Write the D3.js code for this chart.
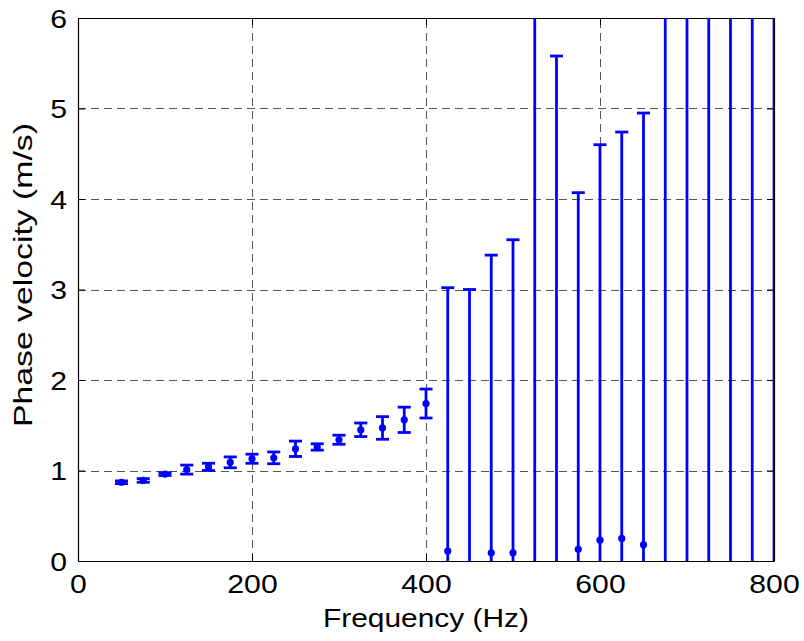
<!DOCTYPE html>
<html>
<head>
<meta charset="utf-8">
<script src="https://cdn.jsdelivr.net/npm/d3@7"></script>
<style>
  html, body { margin: 0; padding: 0; background: #fff; }
  svg { display: block; }
  text { font-family: "Liberation Sans", Arial, Helvetica, sans-serif; fill: #000; }
</style>
</head>
<body>
<svg id="chart" width="804" height="641"></svg>
<script>
// Data
const frequencies = [50, 75, 100, 125, 150, 175, 200, 225, 250, 275, 300, 325, 350, 375, 400,
                     425, 450, 475, 500, 525, 550, 575, 600, 625, 650, 675, 700, 725, 750, 775, 800];
const velocities  = [0.87, 0.89, 0.96, 1.01, 1.04, 1.09, 1.13, 1.14, 1.24, 1.26, 1.34, 1.45, 1.47, 1.56, 1.74,
                     0.11, -0.15, 0.09, 0.09, -0.4, -0.3, 0.13, 0.23, 0.25, 0.18, -0.5, -0.5, -0.5, -0.5, -0.5, -0.5];
const errors      = [0.015, 0.02, 0.015, 0.05, 0.04, 0.06, 0.05, 0.065, 0.085, 0.035, 0.05, 0.075, 0.125, 0.14, 0.16,
                     2.91, 3.15, 3.29, 3.46, 7.0, 5.88, 3.94, 4.37, 4.49, 4.77, 7.0, 7.0, 7.0, 7.0, 7.0, 7.0];
const xTicks = [0, 200, 400, 600, 800];
const yTicks = [0, 1, 2, 3, 4, 5, 6];
const xLabel = "Frequency (Hz)";
const yLabel = "Phase velocity (m/s)";

const data = frequencies.map((f, i) => ({ f, v: velocities[i], e: errors[i] }));

const svg = d3.select("#chart");
const L = 78, R = 774, T = 18, B = 561;
const x = d3.scaleLinear().domain([0, 800]).range([L, R]);
const y = d3.scaleLinear().domain([0, 6]).range([B, T]);
const tee = (d3.max(frequencies) - d3.min(frequencies)) / 100;
const FS = 26, digitW = 16.8;

svg.append("defs").append("clipPath").attr("id", "clip")
  .append("rect").attr("x", L).attr("y", T).attr("width", R - L).attr("height", B - T);

// Grid
const grid = svg.append("g").attr("stroke", "#555").attr("stroke-width", 1)
  .attr("stroke-dasharray", "8,5").attr("shape-rendering", "crispEdges");
grid.selectAll("line.gx").data(xTicks.filter(t => t > 0 && t < 800)).join("line")
  .attr("x1", d => Math.round(x(d)) + 0.5).attr("x2", d => Math.round(x(d)) + 0.5)
  .attr("y1", B).attr("y2", T);
grid.selectAll("line.gy").data(yTicks.filter(t => t > 0 && t < 6)).join("line")
  .attr("y1", d => Math.round(y(d)) + 0.5).attr("y2", d => Math.round(y(d)) + 0.5)
  .attr("x1", L).attr("x2", R);

// Axes
const tickLen = 7;
const fmt = d3.format("d");
const axB = svg.append("g").attr("transform", `translate(0,${B})`)
  .call(d3.axisBottom(x).tickValues(xTicks).tickFormat(fmt).tickSizeInner(-tickLen).tickSizeOuter(0));
const axT = svg.append("g").attr("transform", `translate(0,${T})`)
  .call(d3.axisTop(x).tickValues(xTicks).tickSizeInner(-tickLen).tickSizeOuter(0).tickFormat(""));
const axL = svg.append("g").attr("transform", `translate(${L},0)`)
  .call(d3.axisLeft(y).tickValues(yTicks).tickFormat(fmt).tickSizeInner(-tickLen).tickSizeOuter(0));
const axR = svg.append("g").attr("transform", `translate(${R},0)`)
  .call(d3.axisRight(y).tickValues(yTicks).tickSizeInner(-tickLen).tickSizeOuter(0).tickFormat(""));
[axB, axT, axL, axR].forEach(a => {
  a.select(".domain").attr("stroke", "#000").attr("stroke-width", 1.2);
  a.selectAll(".tick line").attr("stroke", "#000");
});
axB.selectAll(".tick text")
  .attr("y", 32).attr("dy", null)
  .attr("font-size", FS).attr("font-family", "Liberation Sans, Arial, sans-serif")
  .attr("textLength", d => String(fmt(d)).length * digitW).attr("lengthAdjust", "spacingAndGlyphs");
axL.selectAll(".tick text")
  .attr("x", -11).attr("dy", "0.35em")
  .attr("font-size", FS).attr("font-family", "Liberation Sans, Arial, sans-serif")
  .attr("textLength", d => String(fmt(d)).length * digitW).attr("lengthAdjust", "spacingAndGlyphs");

// Error bars
const g = svg.append("g").attr("clip-path", "url(#clip)");
const blue = "#0000ff";
const bars = g.selectAll("g.eb").data(data).join("g");
bars.append("line")
  .attr("x1", d => x(d.f)).attr("x2", d => x(d.f))
  .attr("y1", d => y(d.v - d.e)).attr("y2", d => y(d.v + d.e))
  .attr("stroke", blue).attr("stroke-width", 2.8);
bars.append("line")
  .attr("x1", d => x(d.f - tee)).attr("x2", d => x(d.f + tee))
  .attr("y1", d => y(d.v + d.e)).attr("y2", d => y(d.v + d.e))
  .attr("stroke", blue).attr("stroke-width", 2.8);
bars.append("line")
  .attr("x1", d => x(d.f - tee)).attr("x2", d => x(d.f + tee))
  .attr("y1", d => y(d.v - d.e)).attr("y2", d => y(d.v - d.e))
  .attr("stroke", blue).attr("stroke-width", 2.8);
bars.append("circle")
  .attr("cx", d => x(d.f)).attr("cy", d => y(d.v)).attr("r", 3.6)
  .attr("fill", blue);

// Labels
svg.append("text").attr("x", (L + R) / 2).attr("y", 627).attr("text-anchor", "middle")
  .attr("font-size", FS).attr("textLength", 206).attr("lengthAdjust", "spacingAndGlyphs")
  .text(xLabel);
svg.append("text").attr("transform", `translate(32,275) rotate(-90)`)
  .attr("text-anchor", "middle").attr("font-size", FS)
  .attr("textLength", 304).attr("lengthAdjust", "spacingAndGlyphs")
  .text(yLabel);
</script>
</body>
</html>
